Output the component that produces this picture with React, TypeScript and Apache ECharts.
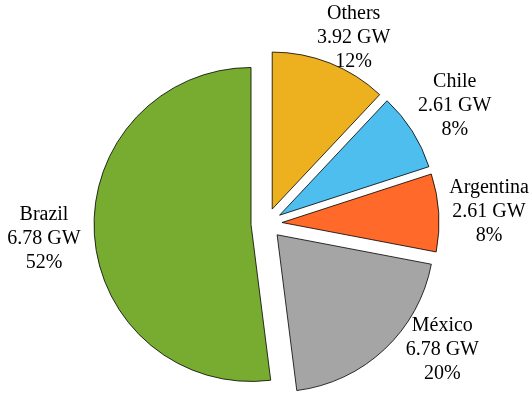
import React, { useEffect, useRef } from "react";
import * as echarts from "echarts";

const regions = ["Others", "Chile", "Argentina", "México", "Brazil"];
const capacityGW = [3.92, 2.61, 2.61, 6.78, 6.78];
const sharePct = [12, 8, 8, 20, 52];
const colors = ["#EDB120", "#4DBEEE", "#FF6929", "#A5A5A5", "#77AC30"];

export default function App() {
  const ref = useRef<HTMLDivElement>(null);
  useEffect(() => {
    const chart = echarts.init(ref.current!, null, { renderer: "svg" });
    const W = 529;
    const H = 398;
    const cx = 266.5;
    const cy = 223.5;
    const R = 157;
    const offset = 15.5;
    const labelDist = R * 1.42;
    const lineH = 24;
    const total = sharePct.reduce((a, b) => a + b, 0);
    const mids: number[] = [];
    let acc = 0;
    sharePct.forEach((v) => {
      mids.push(((acc + v / 2) / total) * 2 * Math.PI);
      acc += v;
    });

    const labelTexts = regions.map(
      (n, i) => `${n}\n${capacityGW[i].toFixed(2)} GW\n${sharePct[i]}%`
    );
    const labels = labelTexts.map((text, i) => {
      const a = mids[i];
      const dx = Math.sin(a);
      const dy = -Math.cos(a);
      let x = cx + dx * labelDist;
      let y = cy + dy * labelDist;
      const half = (3 * lineH) / 2;
      const minY = half;
      const maxY = H - 14 - half;
      let delta = 0;
      if (y < minY) {
        delta = minY - y;
        y = minY;
      } else if (y > maxY) {
        delta = y - maxY;
        y = maxY;
      }
      if (delta > 0 && Math.abs(dy) > 1e-6) {
        x += Math.sign(dx) * 0.65 * delta * Math.abs(dx / dy);
      }
      x = Math.min(Math.max(x, 0), W);
      return {
        type: "text",
        x,
        y,
        silent: true,
        style: {
          text,
          fill: "#000",
          font: '20px "Liberation Serif"',
          fontFamily: "Liberation Serif",
          fontSize: 20,
          lineHeight: lineH,
          align: "center",
          verticalAlign: "middle",
          textAlign: "center",
          textVerticalAlign: "middle",
        },
      };
    });

    chart.setOption({
      animation: false,
      graphic: { elements: labels },
      series: [
        {
          type: "pie",
          center: [cx, cy],
          radius: [0, R],
          startAngle: 90,
          clockwise: true,
          selectedMode: "multiple",
          selectedOffset: offset,
          avoidLabelOverlap: false,
          emphasis: { disabled: true },
          itemStyle: { borderColor: "#000", borderWidth: 0.8 },
          label: { show: false },
          labelLine: { show: false },
          data: regions.map((n, i) => ({
            name: n,
            value: sharePct[i],
            selected: true,
            itemStyle: { color: colors[i] },
          })),
        },
      ],
    });
    return () => chart.dispose();
  }, []);
  return (
    <div
      ref={ref}
      style={{ position: "fixed", left: 0, top: 0, width: 529, height: 398 }}
    />
  );
}
